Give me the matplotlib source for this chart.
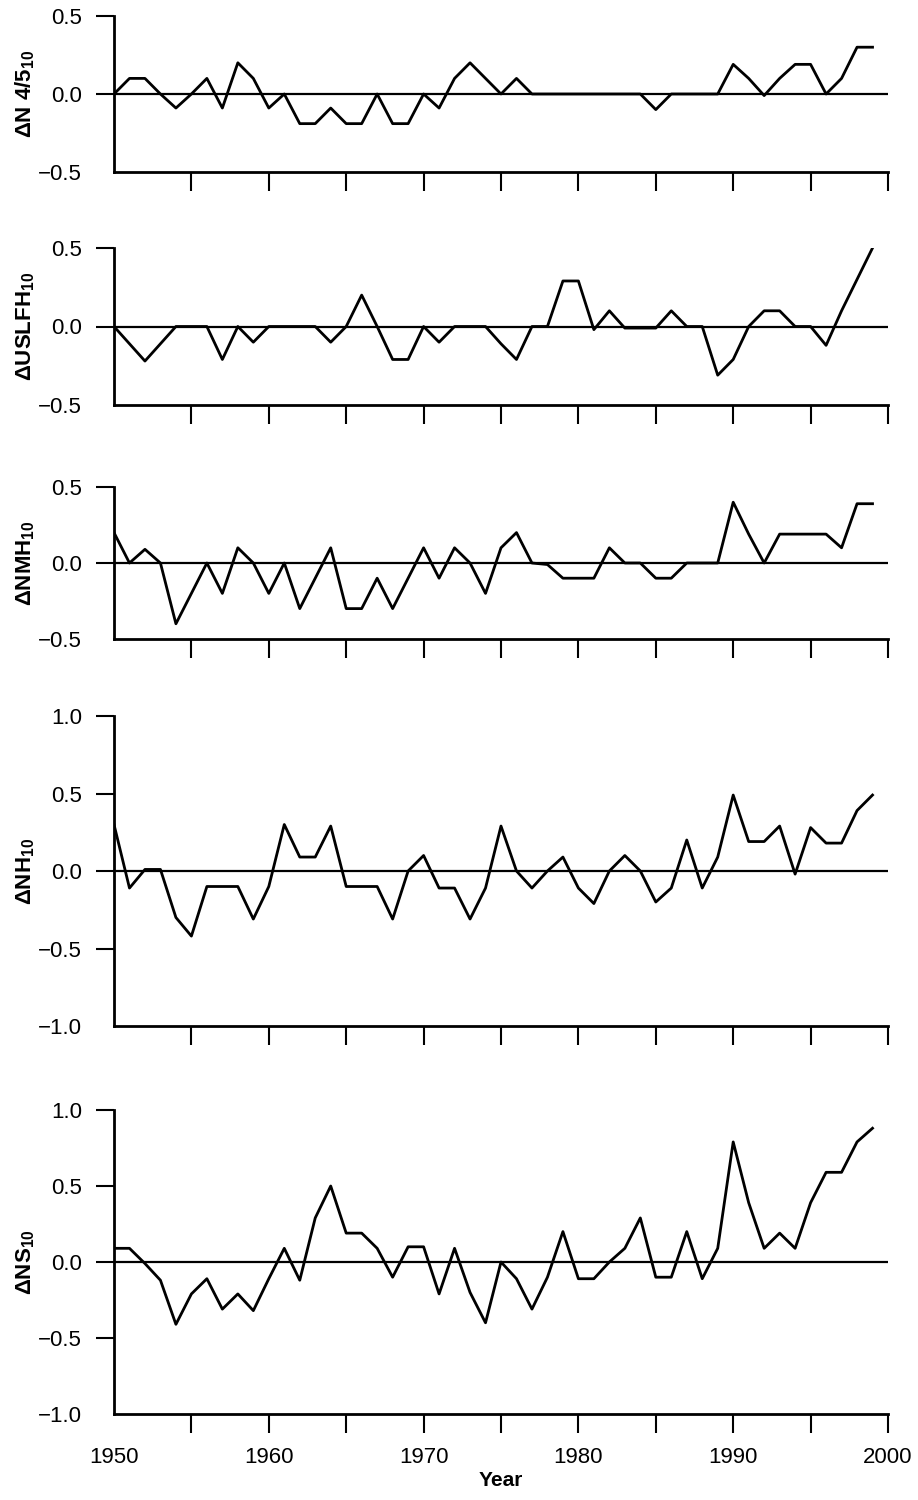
import matplotlib
matplotlib.use("Agg")
import matplotlib.pyplot as plt
import numpy as np

plt.rcParams.update({
    "font.family": ["Liberation Sans Narrow", "Liberation Sans", "DejaVu Sans"],
    "font.size": 16,
    "mathtext.fontset": "custom",
    "mathtext.rm": "Liberation Sans",
    "mathtext.bf": "Liberation Sans:bold",
    "mathtext.it": "Liberation Sans:italic",
})

years = np.arange(1950, 2000)

n45 = [0, 0.1, 0.1, 0, -0.09, 0, 0.1, -0.09, 0.2, 0.1,
       -0.09, 0, -0.19, -0.19, -0.09, -0.19, -0.19, 0, -0.19, -0.19,
       0, -0.09, 0.1, 0.2, 0.1, 0, 0.1, 0, 0, 0,
       0, 0, 0, 0, 0, -0.1, 0, 0, 0, 0,
       0.19, 0.1, -0.01, 0.1, 0.19, 0.19, 0, 0.1, 0.3, 0.3]
uslfh = [0, -0.11, -0.22, -0.11, 0, 0, 0, -0.21, 0, -0.1,
         0, 0, 0, 0, -0.1, 0, 0.2, 0, -0.21, -0.21,
         0, -0.1, 0, 0, 0, -0.11, -0.21, 0, 0, 0.29,
         0.29, -0.02, 0.1, -0.01, -0.01, -0.01, 0.1, 0, 0, -0.31,
         -0.21, 0, 0.1, 0.1, 0, 0, -0.12, 0.1, 0.3, 0.5]
nmh = [0.2, 0, 0.09, 0, -0.4, -0.2, 0, -0.2, 0.1, 0,
       -0.2, 0, -0.3, -0.1, 0.1, -0.3, -0.3, -0.1, -0.3, -0.1,
       0.1, -0.1, 0.1, 0, -0.2, 0.1, 0.2, 0, -0.01, -0.1,
       -0.1, -0.1, 0.1, 0, 0, -0.1, -0.1, 0, 0, 0,
       0.4, 0.19, 0, 0.19, 0.19, 0.19, 0.19, 0.1, 0.39, 0.39]
nh = [0.3, -0.11, 0.01, 0.01, -0.3, -0.42, -0.1, -0.1, -0.1, -0.31,
      -0.1, 0.3, 0.09, 0.09, 0.29, -0.1, -0.1, -0.1, -0.31, 0,
      0.1, -0.11, -0.11, -0.31, -0.11, 0.29, 0, -0.11, 0, 0.09,
      -0.11, -0.21, 0, 0.1, 0, -0.2, -0.11, 0.2, -0.11, 0.09,
      0.49, 0.19, 0.19, 0.29, -0.02, 0.28, 0.18, 0.18, 0.39, 0.49]
ns = [0.09, 0.09, -0.01, -0.12, -0.41, -0.21, -0.11, -0.31, -0.21, -0.32,
      -0.11, 0.09, -0.12, 0.29, 0.5, 0.19, 0.19, 0.09, -0.1, 0.1,
      0.1, -0.21, 0.09, -0.2, -0.4, 0, -0.11, -0.31, -0.1, 0.2,
      -0.11, -0.11, 0, 0.09, 0.29, -0.1, -0.1, 0.2, -0.11, 0.09,
      0.79, 0.39, 0.09, 0.19, 0.09, 0.39, 0.59, 0.59, 0.79, 0.88]

series = [n45, uslfh, nmh, nh, ns]
labels = [r"$\mathbf{\Delta N\ 4/5_{10}}$", r"$\mathbf{\Delta USLFH_{10}}$",
          r"$\mathbf{\Delta NMH_{10}}$", r"$\mathbf{\Delta NH_{10}}$",
          r"$\mathbf{\Delta NS_{10}}$"]
limits = [0.5, 0.5, 0.5, 1.0, 1.0]

# panel boxes in pixels (top, bottom) of the 918x1500 figure
W, H = 918, 1500
boxes = [(16, 172), (248, 405), (487, 639), (716, 1026), (1110, 1414)]
x0, x1 = 114, 888

fig = plt.figure(figsize=(W / 100, H / 100), dpi=100)
for i, (vals, lab, lim, (top, bot)) in enumerate(zip(series, labels, limits, boxes)):
    ax = fig.add_axes([x0 / W, 1 - bot / H, (x1 - x0) / W, (bot - top) / H])
    ax.plot(years, vals, color="black", lw=2)
    ax.axhline(0, color="black", lw=1.6)
    ax.set_xlim(1950, 2000)
    ax.set_ylim(-lim, lim)
    yt = np.arange(-lim, lim + 0.01, 0.5)
    ax.set_yticks(yt)
    ax.set_yticklabels([f"{v:.1f}".replace("-", "\u2212") for v in yt])
    ax.set_xticks(np.arange(1950, 2001, 5))
    if i == 4:
        ax.set_xticklabels([str(y) if y % 10 == 0 else "" for y in range(1950, 2001, 5)])
        ax.set_xlabel("Year", fontweight="bold", fontfamily="Liberation Sans",
                      fontsize=15, labelpad=2)
    else:
        ax.set_xticklabels([])
    for s in ("top", "right"):
        ax.spines[s].set_visible(False)
    for s in ("left", "bottom"):
        ax.spines[s].set_linewidth(2)
    ax.tick_params(direction="out", length=14, width=1.5, color="black")
    ax.tick_params(axis="x", pad=10)
    ax.tick_params(axis="y", length=13, pad=10)
    ax.xaxis.get_major_ticks()[0].tick1line.set_visible(False)
    ax.yaxis.get_major_ticks()[0].tick1line.set_visible(False)
    ax.set_ylabel(lab, fontsize=16)
    ax.yaxis.set_label_coords(-0.099, 0.5)

fig.savefig("out.png", dpi=100)
